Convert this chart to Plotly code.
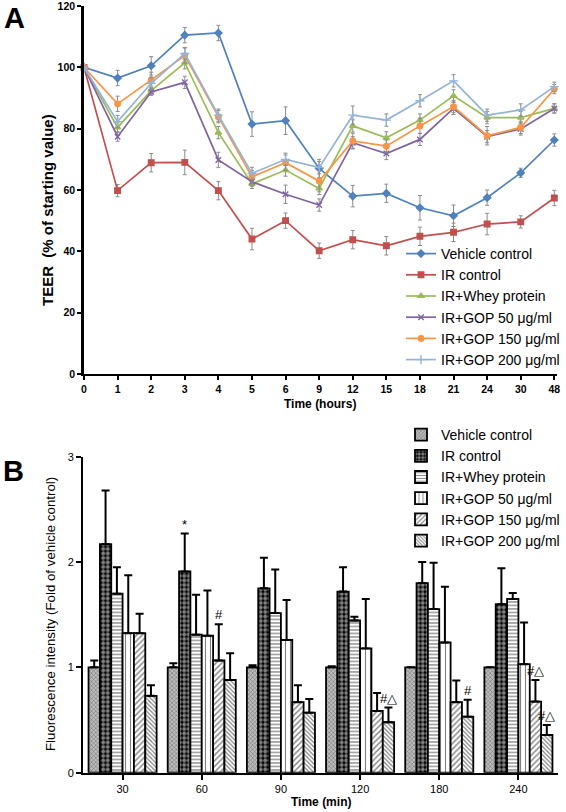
import plotly.graph_objects as go

# ---------------- Panel A data ----------------
times = ["0", "1", "2", "3", "4", "5", "6", "9", "12", "15", "18", "21", "24", "30", "48"]
series_a = ["Vehicle control", "IR control", "IR+Whey protein",
            "IR+GOP 50 μg/ml", "IR+GOP 150 μg/ml", "IR+GOP 200 μg/ml"]
teer_vehicle = [100, 96.5, 100.5, 110.5, 111.2, 81.5, 82.6, 67.0, 58.0, 58.9, 54.2, 51.6, 57.5, 65.6, 76.3]
teer_ir = [100, 59.8, 68.9, 69.0, 59.8, 44.0, 50.0, 40.2, 43.8, 41.8, 44.9, 46.2, 48.9, 49.6, 57.4]
teer_whey = [100, 80.4, 92.4, 101.5, 78.7, 62.0, 66.5, 60.5, 80.9, 77.0, 82.8, 90.7, 83.6, 83.6, 86.6]
teer_gop50 = [100, 77.4, 92.0, 95.1, 69.8, 62.7, 58.6, 55.1, 75.4, 71.9, 76.5, 86.6, 77.4, 79.9, 86.6]
teer_gop150 = [100, 88.1, 95.9, 103.8, 83.9, 64.3, 68.9, 62.9, 76.0, 74.3, 80.9, 87.2, 77.7, 80.4, 92.9]
teer_gop200 = [100, 82.3, 94.8, 104.5, 84.4, 65.4, 70.0, 67.3, 84.4, 82.8, 89.1, 95.6, 84.4, 86.1, 93.7]

err_vehicle = [0, 2.5, 3, 2.5, 2.5, 4, 4.5, 3, 3.5, 3, 4, 3.5, 2.5, 1.5, 2]
err_ir = [0, 2, 3, 4, 3, 3.5, 2.5, 2.5, 3, 3, 3, 3, 3.5, 2, 2.5]
err_whey = [0, 1.5, 1.5, 2, 2, 1.5, 2, 2, 2, 2, 2, 2, 2, 2, 1.5]
err_gop50 = [0, 1.5, 1, 2, 2.5, 1.5, 3, 2, 2, 2, 2, 2, 2, 2, 1.5]
err_gop150 = [0, 2.5, 2.5, 2.5, 2, 2, 2.5, 3.5, 2.5, 2, 2.5, 2, 3, 2, 1.5]
err_gop200 = [0, 2, 2, 2, 2, 2, 2, 2, 3, 2, 2, 2, 2, 2, 1.5]

# ---------------- Panel B data ----------------
groups = ["30", "60", "90", "120", "180", "240"]
fl_vehicle = [1.0, 1.0, 1.0, 1.0, 1.0, 1.0]
fl_ir = [2.17, 1.91, 1.75, 1.72, 1.80, 1.60]
fl_whey = [1.70, 1.31, 1.515, 1.445, 1.553, 1.65]
fl_gop50 = [1.325, 1.30, 1.26, 1.18, 1.236, 1.03]
fl_gop150 = [1.325, 1.065, 0.67, 0.586, 0.67, 0.675]
fl_gop200 = [0.73, 0.88, 0.57, 0.479, 0.532, 0.358]

fe_vehicle = [0.065, 0.04, 0.02, 0.01, 0.0, 0.0]
fe_ir = [0.51, 0.36, 0.29, 0.23, 0.20, 0.34]
fe_whey = [0.25, 0.38, 0.415, 0.035, 0.44, 0.055]
fe_gop50 = [0.55, 0.43, 0.38, 0.47, 0.53, 0.395]
fe_gop150 = [0.185, 0.345, 0.16, 0.17, 0.205, 0.205]
fe_gop200 = [0.10, 0.255, 0.13, 0.14, 0.16, 0.095]

# significance marks: (group index, series index, text)
sig_marks = [(1, 1, "*"), (1, 4, "#"), (3, 5, "#△"), (4, 5, "#"), (5, 4, "#△"), (5, 5, "#△")]

W, H = 566, 812
FONT = "Liberation Sans"

fig = go.Figure()

# ---------- Panel A traces ----------
a_vals = [teer_vehicle, teer_ir, teer_whey, teer_gop50, teer_gop150, teer_gop200]
a_errs = [err_vehicle, err_ir, err_whey, err_gop50, err_gop150, err_gop200]
a_colors = ["#4F81BD", "#C0504D", "#9BBB59", "#8064A2", "#F79646", "#95B3D7"]
a_symbols = ["diamond", "square", "triangle-up", "x-thin", "circle", "cross-thin"]
a_sizes = [5.5, 5.5, 5.5, 5.5, 5.5, 6.5]

for name, vals, errs, col, sym, sz in zip(series_a, a_vals, a_errs, a_colors, a_symbols, a_sizes):
    fig.add_trace(go.Scatter(
        x=times, y=vals, name=name, mode="lines+markers",
        line=dict(color=col, width=1.7),
        marker=dict(symbol=sym, size=sz, color=col, line=dict(color=col, width=1.4)),
        error_y=dict(type="data", array=errs, symmetric=True, color="#8c8c8c",
                     thickness=1, width=2),
        cliponaxis=False, xaxis="x", yaxis="y", legend="legend",
    ))

# ---------- Panel B traces ----------
b_vals = [fl_vehicle, fl_ir, fl_whey, fl_gop50, fl_gop150, fl_gop200]
b_errs = [fe_vehicle, fe_ir, fe_whey, fe_gop50, fe_gop150, fe_gop200]
b_patterns = [
    dict(shape="x", size=3, solidity=0.35, fgcolor="#222222", bgcolor="#bdbdbd"),
    dict(shape=".", size=4.5, solidity=0.6, fgcolor="white", bgcolor="black"),
    dict(shape="-", size=3.5, solidity=0.35, fgcolor="black", bgcolor="white"),
    dict(shape="|", size=5, solidity=0.22, fgcolor="black", bgcolor="white"),
    dict(shape="/", size=4, solidity=0.35, fgcolor="black", bgcolor="white"),
    dict(shape="\\", size=3, solidity=0.4, fgcolor="black", bgcolor="white"),
]
for name, vals, errs, pat in zip(series_a, b_vals, b_errs, b_patterns):
    fig.add_trace(go.Bar(
        x=groups, y=vals, name=name,
        marker=dict(color="white", pattern=pat, line=dict(color="black", width=1.8)),
        error_y=dict(type="data", array=errs, arrayminus=[0] * len(errs), symmetric=False,
                     color="black", thickness=2, width=4),
        xaxis="x2", yaxis="y2", legend="legend2",
    ))

BARGAP = 0.14
nser = len(series_a)
bw = (1 - BARGAP) / nser
annotations = []
for gi, si, txt in sig_marks:
    xpos = gi - (1 - BARGAP) / 2 + (si + 0.5) * bw
    ytop = b_vals[si][gi] + b_errs[si][gi]
    annotations.append(dict(x=xpos, y=ytop, xref="x2", yref="y2", text=txt, showarrow=False,
                            yanchor="bottom", yshift=0, font=dict(family=FONT, size=13, color="black")))

# axis titles & panel letters
annotations += [
    dict(x=14 / W, y=1 - 18 / H, xref="paper", yref="paper", text="<b>A</b>", showarrow=False,
         font=dict(family=FONT, size=29, color="black"), xanchor="center", yanchor="middle"),
    dict(x=13 / W, y=1 - 471 / H, xref="paper", yref="paper", text="<b>B</b>", showarrow=False,
         font=dict(family=FONT, size=29, color="black"), xanchor="center", yanchor="middle"),
    dict(x=48 / W, y=1 - 210 / H, xref="paper", yref="paper", text="<b>TEER  (% of starting value)</b>",
         showarrow=False, textangle=-90, font=dict(family=FONT, size=15, color="black"),
         xanchor="center", yanchor="middle"),
    dict(x=320 / W, y=1 - 404 / H, xref="paper", yref="paper", text="<b>Time (hours)</b>",
         showarrow=False, font=dict(family=FONT, size=12, color="black"),
         xanchor="center", yanchor="middle"),
    dict(x=50 / W, y=1 - 614 / H, xref="paper", yref="paper",
         text="Fluorescence intensity (Fold of vehicle control)",
         showarrow=False, textangle=-90, font=dict(family=FONT, size=13.3, color="black"),
         xanchor="center", yanchor="middle"),
    dict(x=321 / W, y=1 - 802 / H, xref="paper", yref="paper", text="<b>Time (min)</b>",
         showarrow=False, font=dict(family=FONT, size=12, color="black"),
         xanchor="center", yanchor="middle"),
]

fig.update_layout(
    width=W, height=H,
    margin=dict(l=0, r=0, t=0, b=0, autoexpand=False),
    paper_bgcolor="white", plot_bgcolor="white",
    font=dict(family=FONT, color="black"),
    barmode="group", bargap=BARGAP, bargroupgap=0,
    annotations=annotations,
    xaxis=dict(domain=[84 / W, 557 / W], anchor="y", type="category", range=[0, 14.08],
               showline=True, linecolor="black", linewidth=2.2, ticks="outside", ticklen=4,
               tickwidth=1.5, tickcolor="black", showgrid=False, zeroline=False,
               ticklabeloverflow="allow",
               tickfont=dict(family=FONT, size=10.5, weight="bold", color="black")),
    yaxis=dict(domain=[1 - 374 / H, 1 - 6 / H], anchor="x", range=[0, 120], dtick=20,
               showline=True, linecolor="black", linewidth=2.5, ticks="outside", ticklen=4,
               tickwidth=1.5, tickcolor="black", showgrid=False, zeroline=False,
               ticklabeloverflow="allow",
               tickfont=dict(family=FONT, size=10.5, weight="bold", color="black")),
    xaxis2=dict(domain=[83 / W, 558 / W], anchor="y2", type="category",
                showline=True, linecolor="black", linewidth=2, ticks="outside", ticklen=5,
                tickwidth=1.5, tickcolor="black", showgrid=False, zeroline=False,
                ticklabeloverflow="allow",
                tickfont=dict(family=FONT, size=11, color="black")),
    yaxis2=dict(domain=[1 - 772.7 / H, 1 - 456.7 / H], anchor="x2", range=[0, 3], dtick=1,
                showline=True, linecolor="black", linewidth=2, ticks="outside", ticklen=5,
                tickwidth=1.5, tickcolor="black", showgrid=False, zeroline=False,
                ticklabeloverflow="allow",
                tickfont=dict(family=FONT, size=11, color="black")),
    legend=dict(x=401 / W, y=1 - 307 / H, xanchor="left", yanchor="middle",
                bgcolor="rgba(0,0,0,0)", font=dict(family=FONT, size=14, color="black"),
                tracegroupgap=0),
    legend2=dict(x=401 / W, y=1 - 488 / H, xanchor="left", yanchor="middle",
                 bgcolor="rgba(0,0,0,0)", font=dict(family=FONT, size=14, color="black"),
                 tracegroupgap=0),
)

fig.write_html(
    "out.html",
    config={"displayModeBar": False},
    post_script="document.body.style.margin='0';document.body.style.padding='0';"
                "document.documentElement.style.overflow='hidden';",
)
